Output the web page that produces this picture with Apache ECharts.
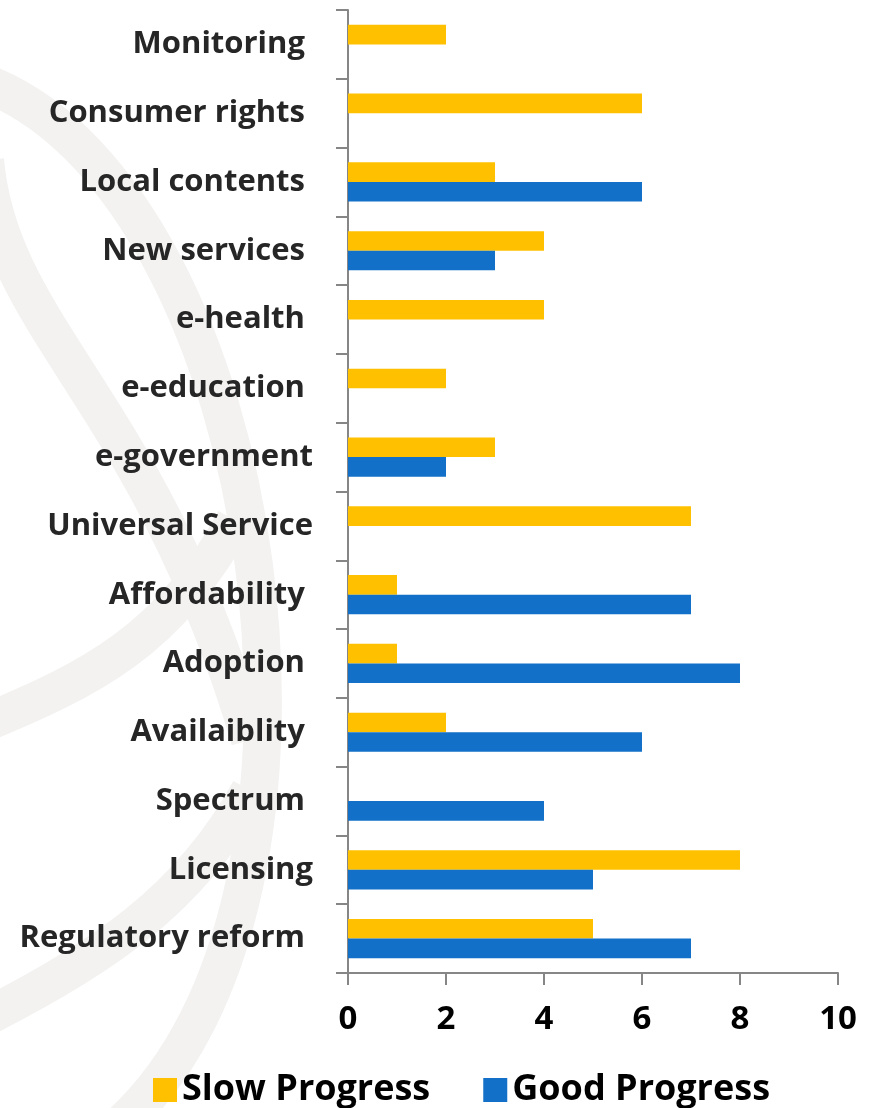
<!DOCTYPE html>
<html>
<head>
<meta charset="utf-8">
<style>
  html, body { margin: 0; padding: 0; background: #ffffff; }
  #chart { width: 875px; height: 1108px; }
</style>
<script src="https://cdn.jsdelivr.net/npm/echarts@6/dist/echarts.min.js"></script>
</head>
<body>
<div id="chart"></div>
<script>
// Policy areas, listed top to bottom
const categories = [
  'Monitoring ', 'Consumer rights ', 'Local contents ', 'New services ',
  'e-health ', 'e-education ', 'e-government', 'Universal Service',
  'Affordability ', 'Adoption ', 'Availaiblity ', 'Spectrum ',
  'Licensing', 'Regulatory reform '
];
// Number of countries per area
const slowProgress = [2, 6, 3, 4, 4, 2, 3, 7, 1, 1, 2, 0, 8, 5];
const goodProgress = [0, 0, 6, 3, 0, 0, 2, 0, 7, 8, 6, 4, 5, 7];
const xTicks = [0, 2, 4, 6, 8, 10];

const FONT = '"Open Sans"';
const swirl = '#F3F2F1';

function curve(x1, y1, cx1, cy1, cx2, cy2, x2, y2) {
  return {
    type: 'bezierCurve',
    z: -10,
    silent: true,
    shape: { x1, y1, cpx1: cx1, cpy1: cy1, cpx2: cx2, cpy2: cy2, x2, y2 },
    style: { stroke: swirl, lineWidth: 38, fill: null }
  };
}

const chart = echarts.init(document.getElementById('chart'), null, { renderer: 'canvas' });
chart.setOption({
  backgroundColor: '#ffffff',
  animation: false,
  graphic: [
    // faint background swirl
    curve(-10, 85, 270, 200, 370, 900, 120, 1125),
    curve(-15, 160, 0, 330, 150, 400, 250, 740),
    curve(-20, 725, 90, 680, 170, 640, 235, 520),
    curve(-20, 1020, 100, 960, 190, 900, 250, 790)
  ],
  grid: { left: 348, right: 37, top: 10, bottom: 135, containLabel: false },
  legend: {
    data: ['Slow Progress', 'Good Progress'],
    left: 148,
    top: 1067,
    icon: 'rect',
    itemWidth: 24,
    itemHeight: 24,
    itemGap: 53,
    textStyle: { fontFamily: FONT, fontWeight: 'bold', fontSize: 36, color: '#000', padding: [0, 0, 0, 0] }
  },
  xAxis: {
    type: 'value',
    min: xTicks[0],
    max: xTicks[xTicks.length - 1],
    interval: 2,
    splitLine: { show: false },
    axisLine: { show: true, lineStyle: { color: '#868686', width: 2 } },
    axisTick: { show: true, length: 12, lineStyle: { color: '#868686', width: 2 } },
    axisLabel: { fontFamily: FONT, fontWeight: 'bold', fontSize: 33, color: '#000', margin: 30 }
  },
  yAxis: {
    type: 'category',
    inverse: true,
    data: categories,
    axisLine: { show: true, lineStyle: { color: '#868686', width: 2 } },
    axisTick: { show: true, length: 12, lineStyle: { color: '#868686', width: 2 } },
    axisLabel: { fontFamily: FONT, fontWeight: 'bold', fontSize: 31, color: '#262626', margin: 35 }
  },
  series: [
    {
      name: 'Slow Progress',
      type: 'bar',
      data: slowProgress,
      barWidth: 19.6,
      barGap: '0%',
      itemStyle: { color: '#FFC000' }
    },
    {
      name: 'Good Progress',
      type: 'bar',
      data: goodProgress,
      barWidth: 19.6,
      barGap: '0%',
      itemStyle: { color: '#1270C8' }
    }
  ]
});
</script>
</body>
</html>
